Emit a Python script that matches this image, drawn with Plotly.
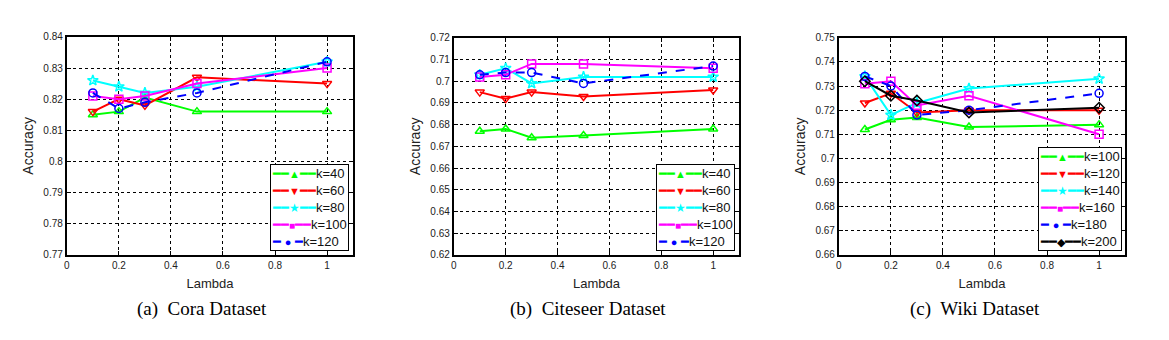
import plotly.graph_objects as go

lam = [0.1, 0.2, 0.3, 0.5, 1.0]

# (a) Cora
cora_names = ["k=40", "k=60", "k=80", "k=100", "k=120"]
cora_k40 = [0.815, 0.816, 0.8205, 0.816, 0.816]
cora_k60 = [0.816, 0.820, 0.818, 0.827, 0.825]
cora_k80 = [0.826, 0.824, 0.822, 0.824, 0.832]
cora_k100 = [0.821, 0.820, 0.821, 0.825, 0.830]
cora_k120 = [0.822, 0.817, 0.819, 0.822, 0.832]

# (b) Citeseer
cite_names = ["k=40", "k=60", "k=80", "k=100", "k=120"]
cite_k40 = [0.677, 0.678, 0.674, 0.675, 0.678]
cite_k60 = [0.695, 0.692, 0.695, 0.693, 0.696]
cite_k80 = [0.703, 0.706, 0.699, 0.702, 0.702]
cite_k100 = [0.702, 0.703, 0.708, 0.708, 0.706]
cite_k120 = [0.703, 0.704, 0.704, 0.699, 0.707]

# (c) Wiki
wiki_names = ["k=100", "k=120", "k=140", "k=160", "k=180", "k=200"]
wiki_k100 = [0.712, 0.716, 0.717, 0.713, 0.714]
wiki_k120 = [0.723, 0.727, 0.719, 0.720, 0.720]
wiki_k140 = [0.734, 0.718, 0.723, 0.729, 0.733]
wiki_k160 = [0.731, 0.732, 0.722, 0.726, 0.710]
wiki_k180 = [0.734, 0.730, 0.718, 0.720, 0.727]
wiki_k200 = [0.732, 0.726, 0.724, 0.719, 0.721]

captions = ["(a)  Cora Dataset", "(b)  Citeseer Dataset", "(c)  Wiki Dataset"]

styles = [
    dict(color="#00ff00", symbol="triangle-up-open", dash="solid", key="━━<span style='font-size:11px'>▲</span>━━"),
    dict(color="#ff0000", symbol="triangle-down-open", dash="solid", key="━━<span style='font-size:11px'>▼</span>━━"),
    dict(color="#00ffff", symbol="star-open", dash="solid", key="━━<span style='font-size:12px'>★</span>━━"),
    dict(color="#ff00ff", symbol="square-open", dash="solid", key="━━<span style='font-size:10px'>■</span>━━"),
    dict(color="#0000ff", symbol="circle-open", dash="dash", key="━ <span style='font-size:11px'>●</span> ━"),
    dict(color="#000000", symbol="diamond-open", dash="solid", key="━━<span style='font-size:11px'>◆</span>━━"),
]

W, H = 1169, 340
panels = [
    dict(names=cora_names, series=[cora_k40, cora_k60, cora_k80, cora_k100, cora_k120],
         px=(64, 351), py=(32, 258), yr=(0.77, 0.84), leg=(347, 254), cap=200),
    dict(names=cite_names, series=[cite_k40, cite_k60, cite_k80, cite_k100, cite_k120],
         px=(452, 738), py=(33, 258), yr=(0.62, 0.72), leg=(734, 254), cap=587),
    dict(names=wiki_names, series=[wiki_k100, wiki_k120, wiki_k140, wiki_k160, wiki_k180, wiki_k200],
         px=(838, 1125), py=(33, 258), yr=(0.66, 0.75), leg=(1122, 254), cap=975),
]

fig = go.Figure()
layout = dict(width=W, height=H, margin=dict(l=0, r=0, t=0, b=0), showlegend=False,
              paper_bgcolor="white", plot_bgcolor="white", annotations=[])

for i, p in enumerate(panels):
    sfx = "" if i == 0 else str(i + 1)
    for j, (nm, ys) in enumerate(zip(p["names"], p["series"])):
        st = styles[j]
        fig.add_trace(go.Scatter(
            x=lam, y=ys, name=nm, mode="lines+markers",
            line=dict(color=st["color"], width=2, dash=st["dash"]),
            marker=dict(symbol=st["symbol"], size=8, color=st["color"],
                        line=dict(width=1.5, color=st["color"])),
            xaxis="x" + sfx, yaxis="y" + sfx,
        ))
    axcommon = dict(showline=True, linecolor="black", linewidth=2, mirror="ticks",
                    ticks="inside", ticklen=4, tickcolor="black",
                    showgrid=True, gridcolor="black", griddash="dot", gridwidth=1,
                    zeroline=False,
                    tickfont=dict(family="Liberation Sans", size=10, color="#222"))
    layout["xaxis" + sfx] = dict(axcommon, domain=[p["px"][0] / W, p["px"][1] / W],
                                 range=[0, 1.1], dtick=0.2, tick0=0,
                                 anchor="y" + sfx,
                                 title=dict(text="Lambda", standoff=9,
                                            font=dict(family="Liberation Sans", size=13, color="#222")))
    layout["yaxis" + sfx] = dict(axcommon, domain=[1 - p["py"][1] / H, 1 - p["py"][0] / H],
                                 range=list(p["yr"]), dtick=0.01, tick0=0,
                                 anchor="x" + sfx,
                                 title=dict(text="Accuracy", standoff=6,
                                            font=dict(family="Liberation Sans", size=14, color="#222")))
    # legend box (text keys matching each series' colour and marker)
    lines = []
    for j, nm in enumerate(p["names"]):
        st = styles[j]
        lines.append(f"<span style='color:{st['color']}'>{st['key']}</span>{nm}")
    layout["annotations"].append(dict(
        text="<br>".join(lines), x=p["leg"][0] / W, y=1 - p["leg"][1] / H,
        xref="paper", yref="paper", showarrow=False, xanchor="right", yanchor="bottom",
        align="left", bgcolor="white", bordercolor="black", borderwidth=1, borderpad=1,
        font=dict(family="Liberation Sans", size=13, color="#111")))
    layout["annotations"].append(dict(
        text=captions[i], x=p["cap"] / W, y=1 - 314 / H,
        xref="paper", yref="paper", showarrow=False, xanchor="center", yanchor="middle",
        font=dict(family="Liberation Serif", size=19, color="black")))

fig.update_layout(**layout)
fig.write_html("out.html")
